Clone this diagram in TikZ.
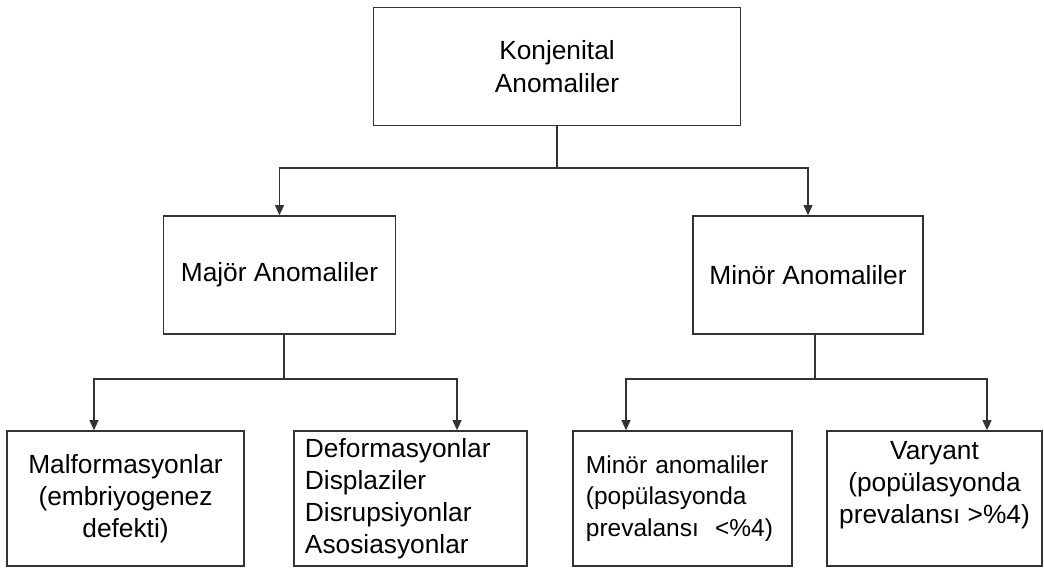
\documentclass[tikz,border=0pt]{standalone}
\usepackage{fontspec}
\setmainfont{Liberation Sans}
\usetikzlibrary{arrows.meta,calc}

\begin{document}
\begin{tikzpicture}[x=0.025cm,y=-0.025cm,>={Triangle[length=0.25cm,width=0.22cm]},
  line width=1.1pt,draw=black!80,
  box/.style={rectangle,draw=black!80,inner sep=0pt,minimum height=2.95cm,
    font=\fontsize{18.7}{24}\selectfont,align=center},
  leaf/.style={box,minimum height=3.375cm,font=\fontsize{18.7}{22.8}\selectfont}]

  \useasboundingbox (0,0) rectangle (1044,567);

  \node[box,minimum width=9.175cm] (root) at (557,66.5) {Konjenital\\Anomaliler};
  \node[box,minimum width=5.8cm] (major) at (279.5,275) {Majör Anomaliler};
  \node[box,minimum width=5.75cm] (minor) at (808,275) {Minör Anomaliler};

  \node[leaf,minimum width=5.925cm] (malf) at (125.5,498.5) {Malformasyonlar\\(embriyogenez\\defekti)};
  \node[leaf,minimum width=5.825cm,text width=5.275cm,align=left] (defor) at (410.5,498.5)
    {Deformasyonlar\\Displaziler\\Disrupsiyonlar\\Asosiasyonlar};
  \node[leaf,minimum width=5.475cm,text width=4.825cm,align=left,
    font=\fontsize{17.4}{22.4}\selectfont] (minoran) at (682.5,498.5)
    {Minör anomaliler\\(popülasyonda\\prevalansı~ <\%4)};
  \node[leaf,minimum width=5.375cm] (var) at (934.5,498.5)
    {Varyant\\(popülasyonda\\prevalansı >\%4)\\ \mbox{}};

  % first level
  \coordinate (j0) at (557,168);
  \draw (root.south) -- (j0);
  \draw[->] (j0) -| (major.north);
  \draw[->] (j0) -| (minor.north);

  % second level
  \coordinate (j1) at (284,379);
  \draw (major.south -| j1) -- (j1);
  \draw[->] (j1) -| ([xshift=-0.7875cm]malf.north);
  \draw[->] (j1) -| ([xshift=1.1625cm]defor.north);

  \coordinate (j2) at (815,379);
  \draw (minor.south -| j2) -- (j2);
  \draw[->] (j2) -| ([xshift=-1.4125cm]minoran.north);
  \draw[->] (j2) -| ([xshift=1.3125cm]var.north);

\end{tikzpicture}
\end{document}
